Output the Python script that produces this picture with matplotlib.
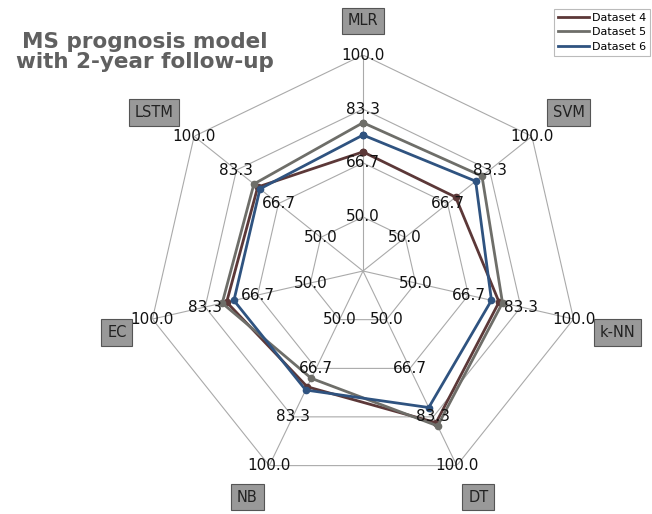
import numpy as np
import matplotlib
matplotlib.use("Agg")
import matplotlib.pyplot as plt
from matplotlib.lines import Line2D

categories = ["MLR", "SVM", "k-NN", "DT", "NB", "EC", "LSTM"]
dataset4 = [70.1, 69.9, 76.4, 85.3, 73.0, 76.5, 74.9]
dataset5 = [79.1, 80.3, 77.5, 86.4, 70.1, 77.9, 76.4]
dataset6 = [75.3, 77.8, 74.0, 80.1, 74.1, 74.2, 74.0]
series_names = ["Dataset 4", "Dataset 5", "Dataset 6"]
series_colors = ["#5c3838", "#6e6e69", "#2f5380"]
ring_values = [50.0, 66.7, 83.3, 100.0]
ring_labels = ["50.0", "66.7", "83.3", "100.0"]
r_min, r_max = 33.333, 100.0

W, H = 652, 514
fig = plt.figure(figsize=(W / 100, H / 100), dpi=100)
cx, cy, R = 363.0, 271.0, 216.0
ax = fig.add_axes([(cx - R) / W, (H - cy - R) / H, 2 * R / W, 2 * R / H], projection="polar")
ax.set_theta_offset(np.pi / 2)
ax.set_theta_direction(-1)
ax.set_ylim(r_min, r_max)
ax.grid(False)
ax.spines["polar"].set_visible(False)
ax.set_xticks([])
ax.set_yticks([])
ax.patch.set_alpha(0)

n = len(categories)
theta = np.arange(n) * 2 * np.pi / n
theta_closed = np.append(theta, theta[0])

grid_color = "#aaaaaa"
for rv in ring_values:
    ax.plot(theta_closed, [rv] * (n + 1), color=grid_color, lw=0.8, zorder=1)
for t in theta:
    ax.plot([t, t], [r_min, r_max], color=grid_color, lw=0.8, zorder=1)

for name, vals, col in zip(series_names, [dataset4, dataset5, dataset6], series_colors):
    v = np.append(vals, vals[0])
    ax.plot(theta_closed, v, color=col, lw=2.0, marker="o", markersize=4.5, label=name, zorder=3)

for t in theta:
    for rv, lab in zip(ring_values, ring_labels):
        ax.text(t, rv, lab, ha="center", va="center", fontsize=11, color="#111111", zorder=4)

label_r = 108.2
for t, cat in zip(theta, categories):
    x_dir, y_dir = np.sin(t), np.cos(t)
    ha = "left" if x_dir > 0.1 else ("right" if x_dir < -0.1 else "center")
    va = "bottom" if y_dir > 0 else "top"
    ax.text(t, label_r, cat, ha=ha, va=va, fontsize=10.5, color="#222222",
            bbox=dict(boxstyle="square,pad=0.4", facecolor="#999999", edgecolor="#555555", lw=0.8),
            clip_on=False, zorder=5)

fig.text(145 / W, 1 - 52 / H, "MS prognosis model\nwith 2-year follow-up", ha="center", va="center",
         fontsize=15.5, fontweight="bold", color="#606060", linespacing=1.0)

hl = [Line2D([], [], color=c, lw=2.0) for c in series_colors]
leg = fig.legend(hl, series_names, loc="upper left", bbox_to_anchor=(554 / W, 1 - 9 / H),
                 fontsize=8, frameon=True, fancybox=False, edgecolor="#aaaaaa",
                 handlelength=2.8, handletextpad=0.3, labelspacing=0.4, borderpad=0.35,
                 borderaxespad=0)
leg.get_frame().set_linewidth(0.8)

fig.savefig("out.png", dpi=100)
